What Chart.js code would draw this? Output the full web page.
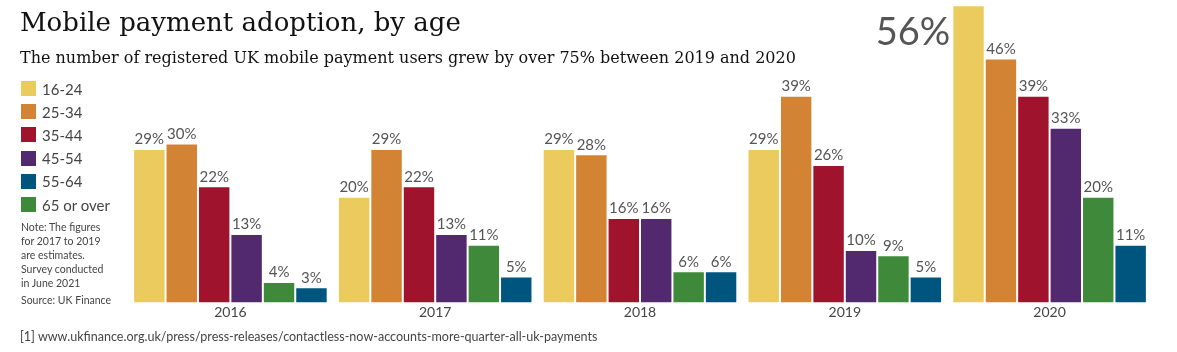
<!DOCTYPE html>
<html>
<head>
<meta charset="utf-8">
<script src="https://cdn.jsdelivr.net/npm/chart.js@4/dist/chart.umd.min.js"></script>
<style>
  body { margin: 0; width: 1177px; height: 352px; background: #fff; position: relative; overflow: hidden; font-family: Lato, sans-serif; color: #444; }
  #wrap { position: absolute; left: 0; top: 0; width: 1177px; height: 352px; }
  .title { position: absolute; left: 20px; top: 7px; font-family: 'DejaVu Serif', serif; font-size: 26px; color: #111; white-space: nowrap; }
  .subtitle { position: absolute; left: 20px; top: 48px; font-family: 'DejaVu Serif', serif; font-size: 16px; color: #111; white-space: nowrap; }
  #legend { position: absolute; left: 21px; top: 77px; }
  .item { height: 23.2px; display: flex; align-items: center; font-size: 15px; color: #444; }
  .sw { width: 15px; height: 15px; margin-right: 6px; }
  .note { position: absolute; left: 21px; top: 220px; font-size: 10.5px; line-height: 14px; color: #444; }
  .source { position: absolute; left: 21px; top: 294px; font-size: 10.5px; color: #444; }
  .foot { position: absolute; left: 20px; top: 329px; font-size: 12.55px; color: #444; white-space: nowrap; }
</style>
</head>
<body>
<div id="wrap"><canvas id="myChart" width="1177" height="352"></canvas></div>
<div class="title">Mobile payment adoption, by age</div>
<div class="subtitle">The number of registered UK mobile payment users grew by over 75% between 2019 and 2020</div>
<div id="legend"></div>
<div class="note">Note: The figures<br>for 2017 to 2019<br>are estimates.<br>Survey conducted<br>in June 2021</div>
<div class="source">Source: UK Finance</div>
<div class="foot">[1] www.ukfinance.org.uk/press/press-releases/contactless-now-accounts-more-quarter-all-uk-payments</div>
<script>
'use strict';

let years = ['2016', '2017', '2018', '2019', '2020'];
let age16to24 = [29, 20, 29, 29, 56];
let age25to34 = [30, 29, 28, 39, 46];
let age35to44 = [22, 22, 16, 26, 39];
let age45to54 = [13, 13, 16, 10, 33];
let age65over = [4, 11, 6, 9, 20];
let age55to64 = [3, 5, 6, 5, 11];

// bars are drawn in this order (green before blue), legend lists 55-64 first
let series = [
    { label: '16-24', data: age16to24, color: '#ebcb5e' },
    { label: '25-34', data: age25to34, color: '#d38334' },
    { label: '35-44', data: age35to44, color: '#a0132c' },
    { label: '45-54', data: age45to54, color: '#52296e' },
    { label: '65 or over', data: age65over, color: '#3e8a3a' },
    { label: '55-64', data: age55to64, color: '#00557f' }
];
let legendOrder = [0, 1, 2, 3, 5, 4];

let legendEl = document.getElementById('legend');
for (let i = 0; i < legendOrder.length; i++) {
    let s = series[legendOrder[i]];
    let div = document.createElement('div');
    div.className = 'item';
    div.innerHTML = `<span class="sw" style="background:${s.color}"></span>${s.label}`;
    legendEl.appendChild(div);
}

let valueLabels = {
    id: 'valueLabels',
    afterDatasetsDraw(chart) {
        let ctx = chart.ctx;
        let maxVal = Math.max(...age16to24);
        ctx.save();
        chart.data.datasets.forEach((ds, di) => {
            chart.getDatasetMeta(di).data.forEach((bar, i) => {
                let v = ds.data[i];
                ctx.fillStyle = '#555';
                if (di === 0 && v === maxVal) {
                    ctx.font = '38px Lato';
                    ctx.textAlign = 'right';
                    ctx.textBaseline = 'alphabetic';
                    ctx.fillText(v + '%', bar.x - bar.width / 2 - 2, bar.y + 40);
                } else {
                    ctx.font = '15px Lato';
                    ctx.textAlign = 'center';
                    ctx.textBaseline = 'bottom';
                    ctx.fillText(v + '%', bar.x, bar.y - 2);
                }
            });
        });
        ctx.restore();
    }
};

let ctx = document.getElementById('myChart').getContext('2d');
let myChart = new Chart(ctx, {
    type: 'bar',
    data: {
        labels: years,
        datasets: series.map(s => ({
            label: s.label,
            data: s.data,
            backgroundColor: s.color,
            borderColor: 'rgba(255,255,255,0.45)',
            borderWidth: 1,
            borderSkipped: false,
            categoryPercentage: 0.95,
            barPercentage: 1
        }))
    },
    options: {
        responsive: false,
        animation: false,
        layout: { padding: { left: 128, right: 25, top: 0, bottom: 30 } },
        plugins: { legend: { display: false }, tooltip: { enabled: false } },
        scales: {
            x: {
                grid: { display: false, drawTicks: false },
                border: { display: false },
                ticks: { color: '#444', font: { family: 'Lato', size: 14 }, padding: 1 }
            },
            y: {
                display: false,
                min: 0,
                max: 57
            }
        }
    },
    plugins: [valueLabels]
});
</script>
</body>
</html>
